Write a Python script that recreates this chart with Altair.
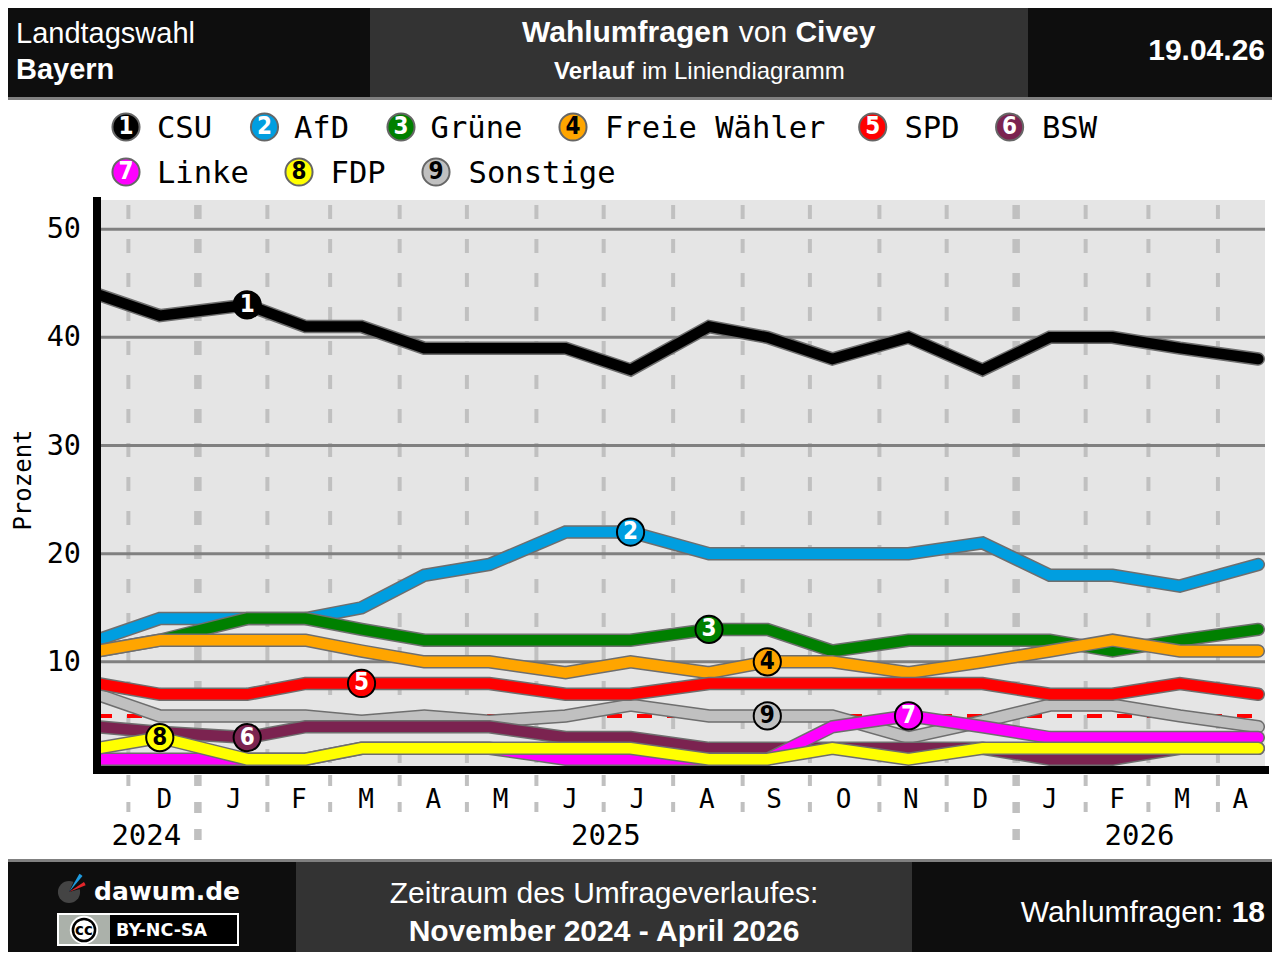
import math
import altair as alt
import pandas as pd

# ---------------- data ----------------
poll_dates = ["2024-11-17", "2024-12-15", "2025-01-23", "2025-02-18", "2025-03-15",
              "2025-04-12", "2025-05-11", "2025-06-14", "2025-07-13", "2025-08-17",
              "2025-09-12", "2025-10-11", "2025-11-14", "2025-12-17", "2026-01-16",
              "2026-02-13", "2026-03-15", "2026-04-19"]
csu    = [44, 42, 43, 41, 41, 39, 39, 39, 37, 41, 40, 38, 40, 37, 40, 40, 39, 38]
afd    = [12, 14, 14, 14, 15, 18, 19, 22, 22, 20, 20, 20, 20, 21, 18, 18, 17, 19]
gruene = [11, 12, 14, 14, 13, 12, 12, 12, 12, 13, 13, 11, 12, 12, 12, 11, 12, 13]
fw     = [11, 12, 12, 12, 11, 10, 10, 9, 10, 9, 10, 10, 9, 10, 11, 12, 11, 11]
spd    = [8, 7, 7, 8, 8, 8, 8, 7, 7, 8, 8, 8, 8, 8, 7, 7, 8, 7]
bsw    = [4, 3.5, 3, 4, 4, 4, 4, 3, 3, 2, 2, 2, 2, 2, 1, 1, 2, 2]
linke  = [1, 1, 1, 1, 2, 2, 2, 1, 1, 1, 1, 4, 5, 4, 3, 3, 3, 3]
fdp    = [2, 3, 1, 1, 2, 2, 2, 2, 2, 1, 1, 2, 1, 2, 2, 2, 2, 2]
sonst  = [7, 5, 5, 5, 4.5, 5, 4.5, 5, 6, 5, 5, 5, 3, 4.5, 6, 6, 5, 4]

parties = ["CSU", "AfD", "Grüne", "Freie Wähler", "SPD", "BSW", "Linke", "FDP", "Sonstige"]
series = [csu, afd, gruene, fw, spd, bsw, linke, fdp, sonst]
numbers = ["1", "2", "3", "4", "5", "6", "7", "8", "9"]
colors = ["#000000", "#009ee0", "#008000", "#ffa500", "#ff0000", "#7b2350", "#ff00ff", "#ffff00", "#c0c0c0"]
num_colors = ["white", "white", "white", "black", "white", "white", "white", "black", "black"]
marker_index = [2, 8, 9, 10, 4, 2, 12, 1, 10]
draw_order = ["Sonstige", "CSU", "AfD", "Grüne", "Freie Wähler", "SPD", "BSW", "Linke", "FDP"]

month_starts = ["2024-12-01", "2025-01-01", "2025-02-01", "2025-03-01", "2025-04-01", "2025-05-01",
                "2025-06-01", "2025-07-01", "2025-08-01", "2025-09-01", "2025-10-01", "2025-11-01",
                "2025-12-01", "2026-01-01", "2026-02-01", "2026-03-01", "2026-04-01"]
month_letters = ["D", "J", "F", "M", "A", "M", "J", "J", "A", "S", "O", "N", "D", "J", "F", "M", "A"]
month_label_dates = ["2024-12-17", "2025-01-17", "2025-02-15", "2025-03-17", "2025-04-16", "2025-05-16",
                     "2025-06-16", "2025-07-16", "2025-08-16", "2025-09-15", "2025-10-16", "2025-11-15",
                     "2025-12-16", "2026-01-16", "2026-02-15", "2026-03-16", "2026-04-11"]
year_labels = ["2024", "2025", "2026"]
year_label_dates = ["2024-12-09", "2025-07-02", "2026-02-25"]
y_ticks = [10, 20, 30, 40, 50]
threshold = [5]

# ---------------- style / layout ----------------
SANS = "Liberation Sans, Arial, sans-serif"
MONO = "DejaVu Sans Mono, monospace"
NARROW = "Liberation Sans Narrow, DejaVu Sans Condensed, Roboto Condensed, sans-serif"
DJV = "DejaVu Sans, sans-serif"
OX, OY = 97, 200          # page position of the plot area
W, H = 1168, 570

def ts(d):
    return d + "T00:00:00"

xs = alt.Scale(type="time", domain=[alt.DateTime(year=2024, month=11, date=17),
                                    alt.DateTime(year=2026, month=4, date=22)])
ys = alt.Scale(domain=[0, 52.7], nice=False, zero=False)

rows = []
for p, vals in zip(parties, series):
    for d, v in zip(poll_dates, vals):
        rows.append({"party": p, "date": ts(d), "value": v})
df = pd.DataFrame(rows)

one = pd.DataFrame({"k": [0]})

def R(x1, y1, x2, y2, fill):
    return alt.Chart(one).mark_rect(fill=fill).encode(
        x=alt.value(x1 - OX), x2=alt.value(x2 - OX), y=alt.value(y1 - OY), y2=alt.value(y2 - OY))

def T(s, x, y, size, weight="normal", align="left", font=SANS, color="white", baseline="alphabetic", angle=0):
    return alt.Chart(one).mark_text(text=s, fontSize=size, fontWeight=weight, align=align,
                                    baseline=baseline, font=font, color=color, angle=angle).encode(
        x=alt.value(x - OX), y=alt.value(y - OY))

def C(x, y, r, fill, stroke=None, sw=0):
    kw = dict(fill=fill, opacity=1, fillOpacity=1, size=math.pi * r * r)
    if stroke:
        kw.update(stroke=stroke, strokeWidth=sw)
    return alt.Chart(one).mark_circle(**kw).encode(x=alt.value(x - OX), y=alt.value(y - OY))

def A(x, y, r, t1, t2, fill):
    return alt.Chart(one).mark_arc(radius=r, innerRadius=0, theta=t1, theta2=t2, fill=fill).encode(
        x=alt.value(x - OX), y=alt.value(y - OY))

layers = []

# month boundary dashed lines
reg_df = pd.DataFrame({"d": [ts(m) for m in month_starts if not m.endswith("-01-01")]})
jan_df = pd.DataFrame({"d": [ts(m) for m in month_starts if m.endswith("-01-01")]})
X_d = alt.X("d:T", scale=xs, axis=None)
layers.append(alt.Chart(reg_df).mark_rule(color="#c0c0c0", strokeWidth=4, strokeDash=[14, 20]).encode(
    x=X_d, y=alt.value(5), y2=alt.value(566)))
layers.append(alt.Chart(jan_df).mark_rule(color="#c0c0c0", strokeWidth=7.5, strokeDash=[14, 20]).encode(
    x=X_d, y=alt.value(5), y2=alt.value(566)))
layers.append(alt.Chart(reg_df).mark_rule(color="#c0c0c0", strokeWidth=4, strokeDash=[11, 16]).encode(
    x=X_d, y=alt.value(575), y2=alt.value(612)))
layers.append(alt.Chart(jan_df).mark_rule(color="#c0c0c0", strokeWidth=7.5, strokeDash=[11, 16]).encode(
    x=X_d, y=alt.value(575), y2=alt.value(646)))

# horizontal grid
grid_df = pd.DataFrame({"v": y_ticks})
layers.append(alt.Chart(grid_df).mark_rule(color="#808080", strokeWidth=3).encode(
    y=alt.Y("v:Q", scale=ys, axis=None), x=alt.value(0), x2=alt.value(W)))
# y tick labels (placed through the y scale)
layers.append(alt.Chart(grid_df).mark_text(font=MONO, fontSize=28.5, color="black", align="right",
                                           baseline="middle").encode(
    y=alt.Y("v:Q", scale=ys, axis=None), x=alt.value(-16), text="v:Q"))
layers.append(T("Prozent", 23.5, 480, 24, "normal", "center", MONO, "black", "middle", 270))

# 5% threshold
thr_df = pd.DataFrame({"v": threshold})
layers.append(alt.Chart(thr_df).mark_rule(color="#ff0000", strokeWidth=4, strokeDash=[15, 15]).encode(
    y=alt.Y("v:Q", scale=ys, axis=None), x=alt.value(0), x2=alt.value(W)))

# party lines (outline + colour per party)
for p in draw_order:
    i = parties.index(p)
    base = alt.Chart(df).transform_filter(alt.datum.party == p)
    enc = dict(x=alt.X("date:T", scale=xs, axis=None), y=alt.Y("value:Q", scale=ys, axis=None))
    layers.append(base.mark_line(color="#6e6e6e", strokeWidth=13.5, strokeCap="round",
                                 strokeJoin="miter", clip=True).encode(**enc))
    layers.append(base.mark_line(color=colors[i], strokeWidth=10.5, strokeCap="round",
                                 strokeJoin="miter", clip=True).encode(**enc))

# axis bars
layers.append(R(93, 766, 1269, 774, "#000000"))
layers.append(R(93, 197, 101, 774, "#000000"))

# numbered markers on lines
mk = pd.DataFrame([{"date": ts(poll_dates[marker_index[i]]), "value": series[i][marker_index[i]],
                    "num": numbers[i], "fill": colors[i], "tcol": num_colors[i]} for i in range(9)])
layers.append(alt.Chart(mk).mark_circle(size=740, stroke="black", strokeWidth=2, opacity=1).encode(
    x=alt.X("date:T", scale=xs, axis=None), y=alt.Y("value:Q", scale=ys, axis=None),
    fill=alt.Fill("fill:N", scale=None)))
layers.append(alt.Chart(mk).mark_text(font=NARROW, fontSize=24, fontWeight="bold", baseline="middle",
                                      align="center").encode(
    x=alt.X("date:T", scale=xs, axis=None), y=alt.Y("value:Q", scale=ys, axis=None),
    text="num:N", color=alt.Color("tcol:N", scale=None)))

# month & year labels
ml = pd.DataFrame({"d": [ts(d) for d in month_label_dates], "t": month_letters})
layers.append(alt.Chart(ml).mark_text(font=MONO, fontSize=26, color="black", baseline="alphabetic",
                                      align="center").encode(
    x=alt.X("d:T", scale=xs, axis=None), y=alt.value(608), text="t:N"))
yl = pd.DataFrame({"d": [ts(d) for d in year_label_dates], "t": year_labels})
layers.append(alt.Chart(yl).mark_text(font=MONO, fontSize=29, color="black", baseline="alphabetic",
                                      align="center").encode(
    x=alt.X("d:T", scale=xs, axis=None), y=alt.value(645), text="t:N"))

# header
layers += [R(0, 0, 370, 97, "#0e0e0e"), R(370, 0, 1028, 97, "#333333"), R(1028, 0, 1280, 97, "#0e0e0e"),
           R(0, 97, 1280, 100, "#808080")]
layers += [T("Landtagswahl", 16, 43, 29), T("Bayern", 16, 79, 29, "bold"),
           T("Wahlumfragen", 522, 42, 30, "bold"), T("von", 738.7, 42, 30), T("Civey", 795.4, 42, 30, "bold"),
           T("Verlauf", 554, 79, 24, "bold"), T("im Liniendiagramm", 642, 79, 24),
           T("19.04.26", 1265, 60, 30, "bold", "right")]

# legend
leg_cx = [126, 264.5, 401, 573, 872.7, 1009.6, 126, 299, 436]
leg_cy = [127, 127, 127, 127, 127, 127, 172, 172, 172]
leg_tx = [157, 294, 430.6, 605, 904.5, 1042, 157, 330.6, 468.6]
for i in range(9):
    layers.append(C(leg_cx[i], leg_cy[i], 15.3, colors[i], "#666666", 2))
    layers.append(T(numbers[i], leg_cx[i], leg_cy[i], 24, "bold", "center", NARROW, num_colors[i], "middle"))
    layers.append(T(parties[i], leg_tx[i], leg_cy[i] + 11, 30.5, "normal", "left", MONO, "black"))

# footer
layers += [R(0, 859, 1280, 862, "#808080"), R(0, 862, 296, 960, "#0e0e0e"),
           R(296, 862, 912, 960, "#333333"), R(912, 862, 1280, 960, "#0e0e0e")]
layers += [T("Zeitraum des Umfrageverlaufes:", 604, 903, 30, "normal", "center"),
           T("November 2024 - April 2026", 604, 941, 30, "bold", "center"),
           T("Wahlumfragen:", 1223, 922, 30, "normal", "right"),
           T("18", 1265, 922, 30, "bold", "right")]
# logo
layers += [C(69, 892, 12.5, "#444444"),
           A(69, 892, 12.5, 0.42, 1.3, "#0e0e0e"),
           A(69, 892, 21, 0.52, 0.70, "#1e9be0"),
           A(69, 892, 18, 0.98, 1.18, "#e3262b"),
           T("dawum.de", 94, 900, 25, "bold", "left", DJV)]
# CC badge
layers += [R(57, 913, 239, 946, "#ffffff"), R(59, 915, 237, 944, "#000000"), R(59, 915, 110, 944, "#abb1aa"),
           C(84, 930, 16, "#ffffff"), C(84, 930, 12.5, "#ffffff", "#000000", 2.5),
           T("cc", 84, 930, 15, "bold", "center", DJV, "black", "middle"),
           T("BY-NC-SA", 116, 936, 17.5, "bold", "left", DJV)]

chart = alt.layer(*layers).properties(
    width=W, height=H,
    padding={"left": 89, "top": 192, "right": 7, "bottom": 182},
    autosize=alt.AutoSizeParams(type="none"),
    background="white",
).configure_view(fill="#e5e5e5", strokeWidth=0)

chart.save("out.html", embed_options={"renderer": "svg", "actions": False})
